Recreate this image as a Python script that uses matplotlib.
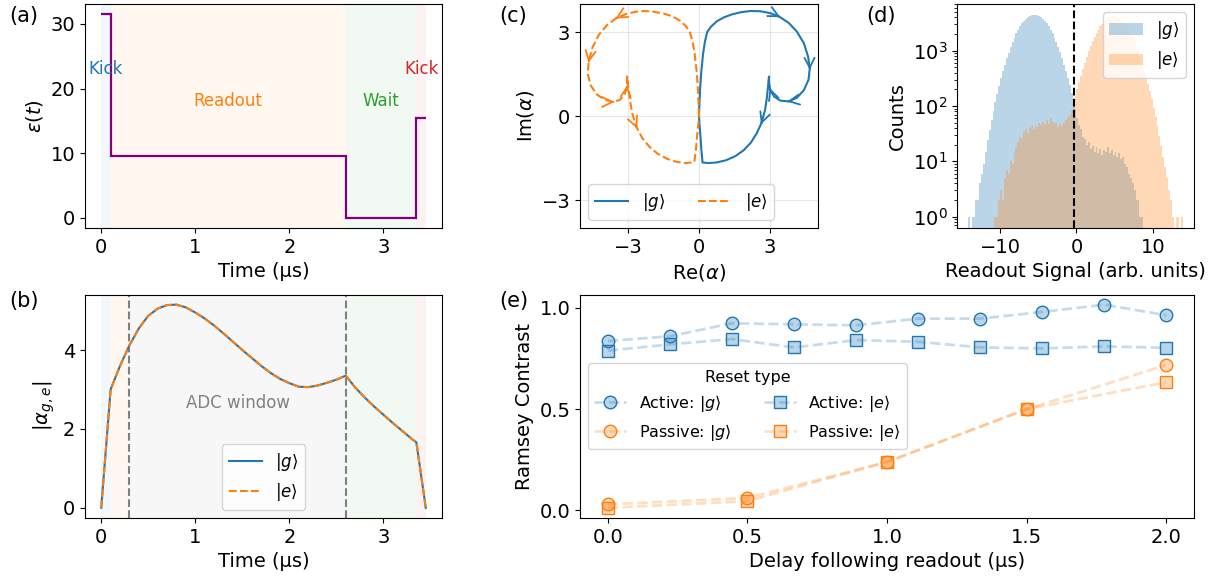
import numpy as np
import matplotlib.pyplot as plt
from matplotlib.colors import to_rgba

plt.rcParams['font.size'] = 14

# (a) drive amplitude per pulse segment
seg_edges = [0.0, 0.1, 2.6, 3.35, 3.45]
seg_amp = [31.5, 9.5, 0.0, 15.5]
seg_names = ['Kick', 'Readout', 'Wait', 'Kick']
seg_colors = ['C0', 'C1', 'C2', 'C3']
seg_text_y = [23, 18, 18, 23]

# (b) cavity amplitude |alpha| vs time
t_alpha = [0.0, 0.1, 0.2, 0.3, 0.4, 0.5, 0.6, 0.7, 0.8, 0.9, 1.0, 1.1, 1.2,
           1.3, 1.4, 1.5, 1.6, 1.7, 1.8, 1.9, 2.0, 2.1, 2.2, 2.3, 2.4, 2.5,
           2.6, 2.7, 2.8, 2.9, 3.0, 3.1, 3.2, 3.3, 3.35, 3.45]
abs_alpha = [0.0, 3.0, 3.6, 4.12, 4.55, 4.87, 5.05, 5.14, 5.15, 5.08, 4.95,
             4.80, 4.62, 4.42, 4.21, 4.0, 3.80, 3.60, 3.42, 3.27, 3.16, 3.07,
             3.06, 3.10, 3.17, 3.25, 3.35, 3.05, 2.80, 2.57, 2.36, 2.15, 1.95,
             1.75, 1.66, 0.0]
adc_window = (0.3, 2.6)

# (c) phase-space trajectories
re_g = [0, 0.02, 0.05, 0.1, 0.17, 0.25, 0.35,
        0.5, 0.75, 1.05, 1.4, 1.8, 2.2, 2.6, 3.0, 3.4, 3.8, 4.15, 4.45, 4.63,
        4.7, 4.65, 4.45, 4.15, 3.8, 3.45, 3.18, 3.02, 2.97, 2.97,
        2.93, 2.88, 2.8, 2.65, 2.45, 2.2, 1.9, 1.55, 1.15, 0.75, 0.4, 0.15,
        0.1, 0.06, 0.02, 0]
im_g = [0, 0.5, 1.0, 1.6, 2.2, 2.65, 3.0,
        3.18, 3.38, 3.52, 3.63, 3.71, 3.75, 3.74, 3.68, 3.55, 3.33, 3.02, 2.6,
        2.12, 1.7, 1.3, 0.92, 0.65, 0.52, 0.55, 0.7, 0.95, 1.2, 1.41,
        1.05, 0.65, 0.2, -0.25, -0.62, -0.95, -1.22, -1.43, -1.58, -1.66,
        -1.68, -1.66, -1.2, -0.7, -0.3, 0]
re_e = [0, -0.02, -0.05, -0.1, -0.18, -0.27, -0.39,
        -0.55, -0.8, -1.1, -1.5, -1.9, -2.3, -2.7, -3.1, -3.5, -3.9, -4.25,
        -4.52, -4.68, -4.72, -4.6, -4.35, -4.0, -3.65, -3.35, -3.15, -3.05,
        -3.05, -3.0, -2.93, -2.82, -2.65, -2.4, -2.1, -1.75, -1.35, -0.95,
        -0.55, -0.2, -0.13, -0.08, -0.03, 0]
im_e = [0, 0.5, 1.0, 1.6, 2.2, 2.65, 3.0,
        3.2, 3.4, 3.55, 3.66, 3.72, 3.75, 3.72, 3.64, 3.5, 3.25, 2.9, 2.45,
        1.95, 1.5, 1.1, 0.78, 0.58, 0.5, 0.58, 0.78, 1.05, 1.41,
        1.0, 0.55, 0.05, -0.4, -0.8, -1.1, -1.35, -1.53, -1.64, -1.68, -1.65,
        -1.2, -0.7, -0.3, 0]
arrows_g = [15, 20, 24, 27, 33]
arrows_e = [15, 19, 24, 27, 32]

# (d) readout histograms, bin width 0.25
hist_lo, hist_hi = -14.25, 14.0
counts_g = [1, 0, 1, 1, 2, 2, 4, 6, 9, 15,
            24, 37, 55, 80, 116, 165, 232, 316, 424, 560,
            727, 928, 1163, 1430, 1731, 2058, 2406, 2763, 3120, 3461,
            3774, 4045, 4261, 4411, 4488, 4490, 4413, 4263, 4047, 3776,
            3463, 3122, 2765, 2408, 2060, 1733, 1432, 1164, 929, 729,
            562, 430, 322, 238, 172, 125, 90, 60, 45, 38,
            28, 25, 20, 22, 17, 19, 15, 18, 14, 17,
            13, 16, 15, 18, 14, 16, 13, 15, 12, 14,
            11, 12, 9, 8, 6, 5, 4, 3, 2, 2,
            1, 1, 0, 0, 0, 0, 0, 0, 0, 0,
            0, 0, 0, 0, 0, 0, 0, 0, 0, 0,
            0, 0, 0]
counts_e = [0, 0, 0, 0, 0, 0, 0, 0, 0, 0,
            0, 0, 0, 0, 1, 1, 2, 3, 2, 5,
            7, 6, 10, 9, 14, 18, 22, 28, 25, 34,
            38, 33, 40, 44, 38, 46, 42, 50, 45, 52,
            47, 55, 48, 60, 52, 45, 50, 42, 48, 44,
            50, 55, 62, 70, 85, 100, 150, 205, 270, 354,
            463, 599, 770, 973, 1208, 1474, 1767, 2083, 2414, 2748,
            3076, 3383, 3657, 3885, 4057, 4164, 4200, 4164, 4057, 3885,
            3657, 3383, 3076, 2748, 2414, 2083, 1767, 1474, 1208, 973,
            770, 599, 458, 344, 254, 185, 132, 92, 64, 43,
            29, 19, 12, 8, 5, 3, 2, 1, 0, 1,
            1, 0, 1]
threshold = -0.3

# (e) Ramsey contrast vs delay
delay_active = [0.0, 0.222, 0.444, 0.667, 0.889, 1.111, 1.333, 1.556, 1.778, 2.0]
active_g = [0.836, 0.86, 0.924, 0.919, 0.914, 0.947, 0.947, 0.98, 1.016, 0.964]
active_e = [0.789, 0.82, 0.846, 0.805, 0.841, 0.833, 0.805, 0.80, 0.81, 0.803]
delay_passive = [0.0, 0.5, 1.0, 1.5, 2.0]
passive_g = [0.03, 0.062, 0.239, 0.50, 0.718]
passive_e = [0.013, 0.046, 0.24, 0.50, 0.633]

fig = plt.figure(figsize=(12.22, 5.84), dpi=100)
W, H = 1222, 584


def box(l, t, r, b):
    return [l / W, 1 - b / H, (r - l) / W, (b - t) / H]


ax_a = fig.add_axes(box(85, 4, 442, 228))
ax_c = fig.add_axes(box(580, 4, 818, 228))
ax_d = fig.add_axes(box(957, 4, 1194, 228))
ax_b = fig.add_axes(box(85, 294.5, 442, 518))
ax_e = fig.add_axes(box(580, 294.5, 1194, 518))


def shade_segments(ax):
    for i in range(len(seg_amp)):
        ax.axvspan(seg_edges[i], seg_edges[i + 1], color=seg_colors[i], alpha=0.06, lw=0)


# (a)
shade_segments(ax_a)
ax_a.stairs(seg_amp, seg_edges, color='purple', lw=1.6, baseline=None)
for i in range(len(seg_amp)):
    mid = 0.5 * (seg_edges[i] + seg_edges[i + 1])
    ax_a.text(mid, seg_text_y[i], seg_names[i], color=seg_colors[i],
              ha='center', va='center', fontsize=12)
ax_a.set_xlim(-0.1725, 3.6225)
ax_a.set_ylim(-1.575, 33.075)
ax_a.set_xlabel('Time (µs)')
ax_a.set_ylabel(r'$\varepsilon(t)$')

# (b)
shade_segments(ax_b)
ax_b.axvspan(*adc_window, color='#f7f7f7', lw=0)
for tx in adc_window:
    ax_b.axvline(tx, color='gray', ls='--', lw=1.5)
ax_b.plot(t_alpha, abs_alpha, color='C0', lw=1.5, label=r'$|g\rangle$')
ax_b.plot(t_alpha, abs_alpha, color='C1', lw=1.5, ls='--', label=r'$|e\rangle$')
ax_b.text(sum(adc_window) / 2, 2.65, 'ADC window', color='gray',
          ha='center', va='center', fontsize=12)
ax_b.set_xlim(-0.1725, 3.6225)
ax_b.set_yticks([0, 2, 4])
ax_b.set_xlabel('Time (µs)')
ax_b.set_ylabel(r'$|\alpha_{g,e}|$')
ax_b.legend(loc='lower center', fontsize=12)

# (c)
ax_c.plot(re_g, im_g, color='C0', lw=1.5, label=r'$|g\rangle$')
ax_c.plot(re_e, im_e, color='C1', lw=1.5, ls='--', label=r'$|e\rangle$')
for xs, ys, idx, col in [(re_g, im_g, arrows_g, 'C0'), (re_e, im_e, arrows_e, 'C1')]:
    for i in idx:
        dx, dy = xs[i + 1] - xs[i - 1], ys[i + 1] - ys[i - 1]
        n = np.hypot(dx, dy)
        ax_c.annotate('', xy=(xs[i] + 0.05 * dx / n, ys[i] + 0.05 * dy / n),
                      xytext=(xs[i], ys[i]),
                      arrowprops=dict(arrowstyle='->', color=col, lw=1.3,
                                      mutation_scale=18, shrinkA=0, shrinkB=0))
ax_c.set_xlim(-5.05, 5.05)
ax_c.set_ylim(-4, 4)
ax_c.set_xticks([-3, 0, 3])
ax_c.set_yticks([-3, 0, 3])
ax_c.grid(alpha=0.3)
ax_c.set_xlabel(r'Re$(\alpha)$')
ax_c.set_ylabel(r'Im$(\alpha)$')
ax_c.legend(loc='lower left', ncol=2, fontsize=12)

# (d)
edges = np.linspace(hist_lo, hist_hi, len(counts_g) + 1)
centers = 0.5 * (edges[:-1] + edges[1:])
ax_d.hist(centers, bins=edges, weights=counts_g, color='C0', alpha=0.3,
          log=True, label=r'$|g\rangle$')
ax_d.hist(centers, bins=edges, weights=counts_e, color='C1', alpha=0.3,
          log=True, label=r'$|e\rangle$')
ax_d.axvline(threshold, color='k', ls='--', lw=1.5)
ax_d.set_ylim(0.62, 7000)
ax_d.set_xlabel('Readout Signal (arb. units)')
ax_d.set_ylabel('Counts')
ax_d.legend(loc='upper right', fontsize=12)


# (e)
def series_style(col, marker):
    return dict(color=to_rgba(col, 0.25), ls='--', lw=2, marker=marker, ms=9,
                mfc=to_rgba(col, 0.3), mec=col, mew=1)


ax_e.plot(delay_active, active_g, label=r'Active: $|g\rangle$', **series_style('C0', 'o'))
ax_e.plot(delay_passive, passive_g, label=r'Passive: $|g\rangle$', **series_style('C1', 'o'))
ax_e.plot(delay_active, active_e, label=r'Active: $|e\rangle$', **series_style('C0', 's'))
ax_e.plot(delay_passive, passive_e, label=r'Passive: $|e\rangle$', **series_style('C1', 's'))
ax_e.set_xticks([0.0, 0.5, 1.0, 1.5, 2.0])
ax_e.set_yticks([0.0, 0.5, 1.0])
ax_e.set_xlabel('Delay following readout (µs)')
ax_e.set_ylabel('Ramsey Contrast')
ax_e.legend(loc='center left', ncol=2, title='Reset type', fontsize=11.5,
            title_fontsize=11.5)

# panel tags
for tag, x, y in [('(a)', 9, 6), ('(c)', 499, 6), ('(d)', 866, 6),
                  ('(b)', 9, 291), ('(e)', 499, 291)]:
    fig.text(x / W, 1 - y / H, tag, ha='left', va='top', fontsize=15)

fig.savefig('out.png', dpi=100)
